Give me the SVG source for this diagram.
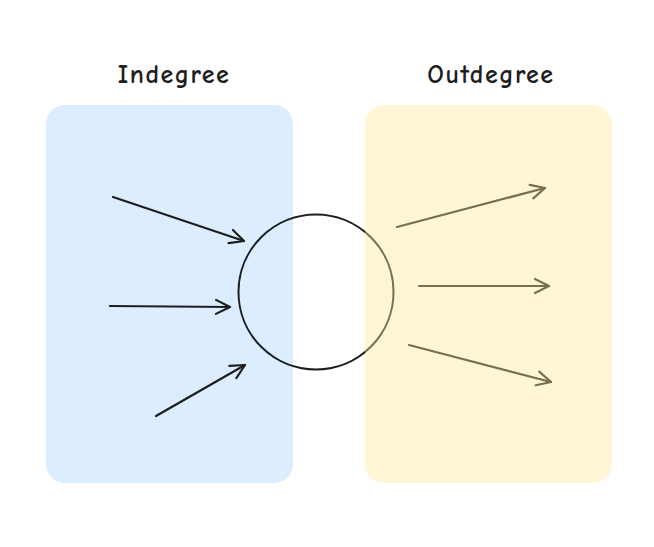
<svg xmlns="http://www.w3.org/2000/svg" width="654" height="547" viewBox="0 0 654 547">
  <defs>
    <style>
      .lbl { font-family: "Comic Neue", "Liberation Sans", "DejaVu Sans", sans-serif; font-size: 26px; font-weight: 700; fill: #1e1e1e; text-anchor: middle; letter-spacing: 1.5px; }
      .edge { fill: none; stroke: #1e1e1e; stroke-width: 2.2; stroke-linecap: round; stroke-linejoin: round; }
    </style>
    <marker id="arr" markerWidth="20" markerHeight="20" refX="16" refY="10" orient="auto" markerUnits="userSpaceOnUse">
      <path d="M2,3 L16,10 L2,17" fill="none" stroke="#1e1e1e" stroke-width="2.2" stroke-linecap="round" stroke-linejoin="round"/>
    </marker>
  </defs>
  <rect width="654" height="547" fill="#ffffff"/>

  <g id="indegree-panel">
    <rect x="46" y="105" width="247" height="378" rx="19" ry="19" fill="#dbedff"/>
  </g>

  <g id="vertex">
    <circle cx="316" cy="292" r="77.5" fill="none" stroke="#1e1e1e" stroke-width="2"/>
  </g>

  <g id="connectors">
    <path class="edge" d="M113,197 L244,241" marker-end="url(#arr)"/>
    <path class="edge" d="M110,306 L230,307" marker-end="url(#arr)"/>
    <path class="edge" d="M156,416 L245,365" marker-end="url(#arr)"/>
    <path class="edge" d="M397,227 L545,188" marker-end="url(#arr)"/>
    <path class="edge" d="M419,286 L549,286" marker-end="url(#arr)"/>
    <path class="edge" d="M409,345 L551,382" marker-end="url(#arr)"/>
  </g>

  <g id="outdegree-panel">
    <rect x="365" y="105" width="247" height="378" rx="19" ry="19" fill="#ffe898" fill-opacity="0.4"/>
  </g>

  <g id="labels">
    <text class="lbl" x="174" y="83">Indegree</text>
    <text class="lbl" x="491" y="83">Outdegree</text>
  </g>
</svg>
